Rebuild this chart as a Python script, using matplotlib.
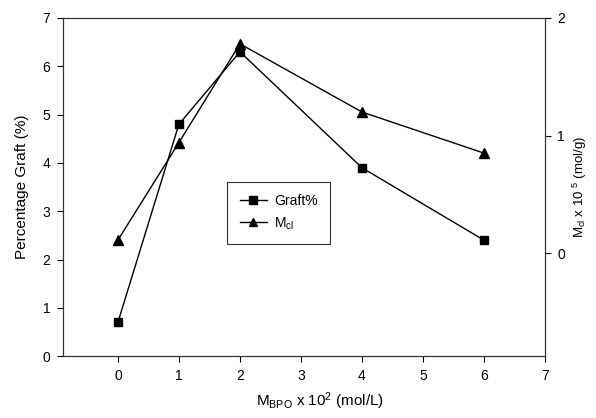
import matplotlib.pyplot as plt

plt.rcParams['font.family'] = ['Liberation Sans', 'DejaVu Sans']
plt.rcParams['mathtext.fontset'] = 'custom'
plt.rcParams['mathtext.rm'] = 'Liberation Sans'
plt.rcParams['mathtext.it'] = 'Liberation Sans'

# data
bpo = [0, 1, 2, 4, 6]
graft = [0.7, 4.8, 6.3, 3.9, 2.4]
mcl = [0.11, 0.94, 1.78, 1.2, 0.85]

fig = plt.figure(figsize=(5.96, 4.18), dpi=100, facecolor='white')
ax = fig.add_axes([0.1057, 0.148, 0.8087, 0.809])
ax2 = ax.twinx()

l1, = ax.plot(bpo, graft, color='black', lw=1, marker='s', markersize=6, label='Graft%')
l2, = ax2.plot(bpo, mcl, color='black', lw=1, marker='^', markersize=7, label='$\\mathregular{M_{cl}}$')

ax.set_xlim(-0.9, 7)
ax.set_ylim(0, 7)
ax2.set_ylim(-0.877, 2)
ax.set_xticks(range(0, 8))
ax.set_yticks(range(0, 8))
ax2.set_yticks([0, 1, 2])

for a in (ax, ax2):
    a.tick_params(direction='out', length=4, width=0.8, labelsize=10, pad=5)
    for s in a.spines.values():
        s.set_linewidth(0.8)
        s.set_color('#333333')

ax.set_ylabel('Percentage Graft (%)', fontsize=11)
ax.yaxis.set_label_coords(-0.07, 0.5)
ax.set_xlabel('$\\mathregular{M_{BPO}}$ x 10$\\mathregular{^2}$ (mol/L)', fontsize=11)
ax.xaxis.set_label_coords(0.533, -0.1)
ax2.set_ylabel('$\\mathregular{M_{cl}}$ x 10 $\\mathregular{^5}$ (mol/g)', fontsize=9.5)
ax2.yaxis.set_label_coords(1.054, 0.5)

leg = ax.legend(handles=[l1, l2], loc='upper left', bbox_to_anchor=(0.326, 0.536),
                fontsize=10, frameon=True, fancybox=False, edgecolor='black',
                handlelength=2.0, handletextpad=0.5, borderpad=0.9, markerscale=0.9)
leg.get_frame().set_linewidth(0.8)

fig.savefig('out.png', dpi=100)
